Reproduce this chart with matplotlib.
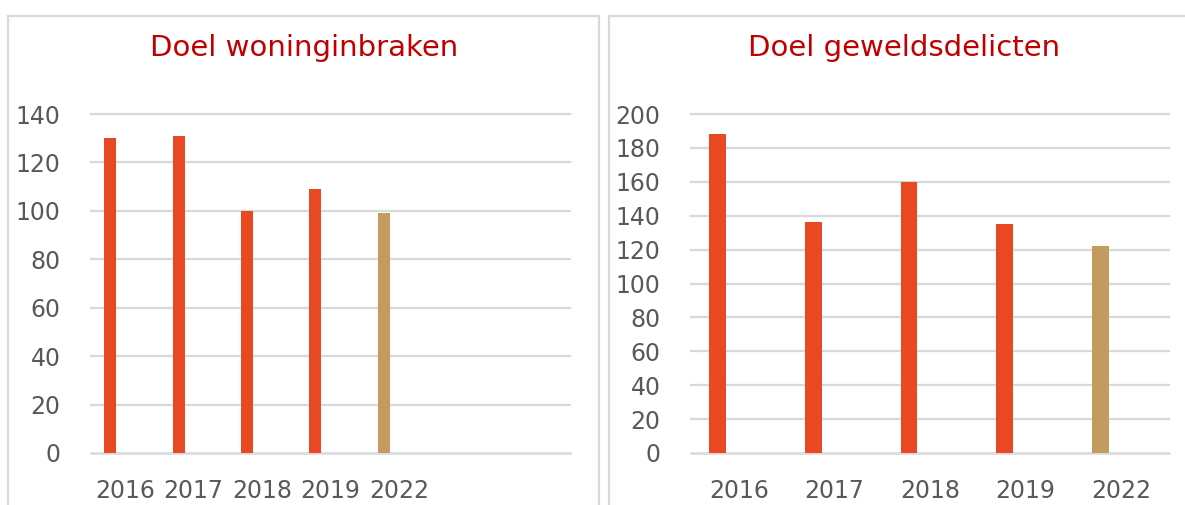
import matplotlib
matplotlib.use("Agg")
import matplotlib.pyplot as plt
from matplotlib.patches import Rectangle

# Data
left_title = "Doel woninginbraken"
left_categories = ["2016", "2017", "2018", "2019", "2022", "", ""]
left_values = [130, 131, 100, 109, 99]
left_colors = ["#E84923", "#E84923", "#E84923", "#E84923", "#C39B5E"]
left_yticks = [0, 20, 40, 60, 80, 100, 120, 140]

right_title = "Doel geweldsdelicten"
right_categories = ["2016", "2017", "2018", "2019", "2022"]
right_values = [188, 136, 160, 135, 122]
right_colors = ["#E84923", "#E84923", "#E84923", "#E84923", "#C39B5E"]
right_yticks = [0, 20, 40, 60, 80, 100, 120, 140, 160, 180, 200]

W, H = 1185, 505
fig = plt.figure(figsize=(W / 100, H / 100), dpi=100)
fig.patch.set_facecolor("white")

TXT = "#595959"
GRID = "#D9D9D9"
TITLE_C = "#C00000"
FS = 17


def px_axes(x0, x1, ytop, ybot):
    return fig.add_axes([x0 / W, (H - ybot) / H, (x1 - x0) / W, (ybot - ytop) / H])


def draw(ax, cats, vals, cols, yticks):
    n = len(cats)
    xs = list(range(len(vals)))
    ax.bar([x - 0.22 for x in xs], vals, width=0.175, color=cols, zorder=3)
    ax.set_xlim(-0.5, n - 0.5)
    ax.set_ylim(0, yticks[-1])
    ax.set_yticks(yticks)
    ax.set_xticks(range(n))
    ax.set_xticklabels(cats)
    for s in ax.spines.values():
        s.set_visible(False)
    for t in yticks:
        ax.axhline(t, color=GRID, linewidth=1.8 if t == 0 else 1.6,
                   zorder=2 if t == 0 else 0, clip_on=False)
    ax.tick_params(axis="both", length=0, labelsize=FS, colors=TXT)
    ax.tick_params(axis="y", pad=22)
    ax.tick_params(axis="x", pad=19)


axL = px_axes(91, 570, 114, 453)
draw(axL, left_categories, left_values, left_colors, left_yticks)
axR = px_axes(691, 1169, 114, 453)
draw(axR, right_categories, right_values, right_colors, right_yticks)

fig.text(304 / W, 1 - 48 / H, left_title, color=TITLE_C, fontsize=21,
         ha="center", va="center")
fig.text(904 / W, 1 - 48 / H, right_title, color=TITLE_C, fontsize=21,
         ha="center", va="center")

# Panel borders
for x0, x1 in [(8, 599), (609, 1195)]:
    r = Rectangle((x0 / W, -0.1), (x1 - x0) / W, (H - 16) / H + 0.1,
                  transform=fig.transFigure, fill=False, edgecolor=GRID,
                  linewidth=1.6, clip_on=False)
    fig.add_artist(r)

fig.savefig("out.png", dpi=100, facecolor="white")
